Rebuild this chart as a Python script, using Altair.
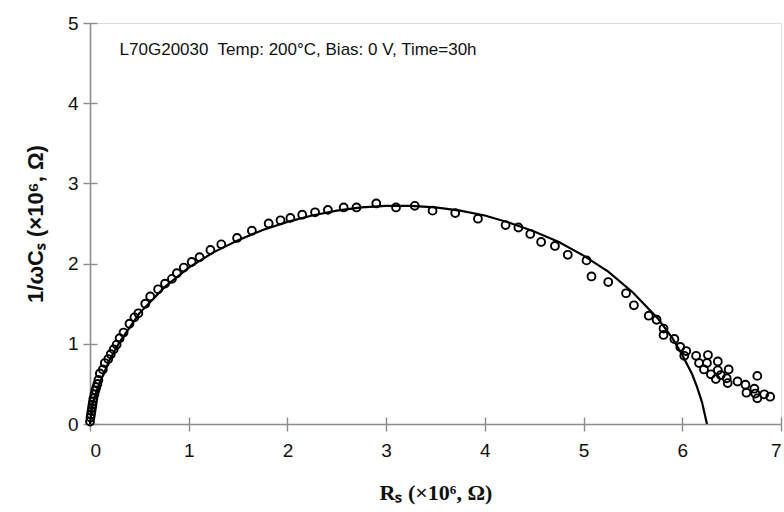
import altair as alt
import pandas as pd

# measured points (Rs, 1/wCs), units of 1e6 Ohm
rs_pts = [0.0, 0.005, 0.01, 0.015, 0.02, 0.025, 0.03, 0.035, 0.045, 0.055, 0.065, 0.075, 0.085,
          0.10, 0.13, 0.15, 0.185, 0.21, 0.24, 0.27, 0.30, 0.34, 0.40, 0.45, 0.49, 0.56, 0.61,
          0.69, 0.76, 0.83, 0.88, 0.95, 1.03, 1.11, 1.22, 1.33, 1.49, 1.64, 1.81, 1.93, 2.03,
          2.15, 2.28, 2.41, 2.57, 2.70, 2.90, 3.10, 3.29, 3.47, 3.70, 3.93, 4.21, 4.34, 4.46,
          4.57, 4.71, 4.84, 5.03, 5.08, 5.25, 5.43, 5.51, 5.66, 5.74, 5.81, 5.81, 5.92, 5.98,
          6.04, 6.02, 6.14, 6.26, 6.17, 6.25, 6.36, 6.22, 6.36, 6.47, 6.29, 6.39, 6.34, 6.45,
          6.46, 6.56, 6.64, 6.76, 6.65, 6.73, 6.74, 6.76, 6.83, 6.89]
xc_pts = [0.03, 0.08, 0.12, 0.16, 0.20, 0.24, 0.28, 0.32, 0.37, 0.42, 0.46, 0.50, 0.55,
          0.63, 0.68, 0.76, 0.81, 0.87, 0.93, 0.99, 1.07, 1.14, 1.25, 1.33, 1.38, 1.50, 1.59,
          1.68, 1.75, 1.81, 1.88, 1.95, 2.02, 2.08, 2.17, 2.24, 2.32, 2.41, 2.50, 2.54, 2.57,
          2.61, 2.64, 2.67, 2.70, 2.70, 2.75, 2.70, 2.72, 2.66, 2.63, 2.56, 2.48, 2.45, 2.37,
          2.27, 2.22, 2.11, 2.04, 1.84, 1.77, 1.63, 1.48, 1.35, 1.30, 1.19, 1.11, 1.06, 0.96,
          0.91, 0.85, 0.85, 0.86, 0.76, 0.76, 0.78, 0.68, 0.67, 0.68, 0.62, 0.61, 0.56, 0.57,
          0.51, 0.53, 0.49, 0.60, 0.39, 0.44, 0.38, 0.32, 0.37, 0.34]

# fitted arc
rs_fit = [0.0, 0.02, 0.05, 0.1, 0.2, 0.3, 0.5, 0.75, 1.0, 1.25, 1.5, 1.75, 2.0, 2.25, 2.5,
          2.75, 3.0, 3.25, 3.5, 3.75, 4.0, 4.25, 4.5, 4.75, 5.0, 5.25, 5.5, 5.75, 5.9, 6.0,
          6.1, 6.15, 6.2, 6.25]
xc_fit = [0.0, 0.2, 0.35, 0.52, 0.8, 1.02, 1.38, 1.70, 1.95, 2.14, 2.29, 2.42, 2.52, 2.60,
          2.66, 2.70, 2.72, 2.72, 2.70, 2.66, 2.60, 2.51, 2.40, 2.27, 2.10, 1.90, 1.64, 1.32,
          1.07, 0.86, 0.62, 0.46, 0.27, 0.0]

x_ticks = [0, 1, 2, 3, 4, 5, 6, 7]
y_ticks = [0, 1, 2, 3, 4, 5]
note = "L70G20030\u00a0 Temp: 200°C, Bias: 0 V, Time=30h"

pts = pd.DataFrame({"rs": rs_pts, "xc": xc_pts})
fit = pd.DataFrame({"rs": rs_fit, "xc": xc_fit, "order": list(range(len(rs_fit)))})

AX = "#8c8c8c"
xs = alt.Scale(domain=[0, 7], nice=False, zero=False)
ys = alt.Scale(domain=[0, 5], nice=False, zero=False)

main_x = alt.Axis(values=x_ticks, orient="bottom", grid=False, domainColor=AX, domainWidth=1.6,
                  tickColor=AX, tickWidth=1.4, tickSize=7, labelFont="Liberation Sans",
                  labelFontSize=19, labelColor="#111", labelPadding=10,
                  title="Rₛ (×10⁶, Ω)", titleFont="Liberation Serif", titleFontSize=22,
                  titleFontWeight="bold", titleColor="#111", titlePadding=22)
main_y = alt.Axis(values=y_ticks, orient="left", grid=False, domainColor=AX, domainWidth=1.6,
                  tickColor=AX, tickWidth=1.4, tickSize=7, labelFont="Liberation Sans",
                  labelFontSize=19, labelColor="#111", labelPadding=5,
                  title="1/ωCₛ (×10⁶, Ω)", titleFont="Liberation Sans", titleFontSize=22,
                  titleFontWeight="bold", titleColor="#111", titlePadding=20)
in_x = alt.Axis(values=x_ticks, orient="bottom", grid=False, domain=False, labels=False,
                tickColor=AX, tickWidth=1.4, tickSize=7, offset=-7, title=None)
in_y = alt.Axis(values=y_ticks, orient="left", grid=False, domain=False, labels=False,
                tickColor=AX, tickWidth=1.4, tickSize=7, offset=-7, title=None)

line = alt.Chart(fit).mark_line(color="black", strokeWidth=2.2).encode(
    x=alt.X("rs:Q", scale=xs, axis=in_x),
    y=alt.Y("xc:Q", scale=ys, axis=in_y),
    order="order:Q",
)
points = alt.Chart(pts).mark_point(shape="circle", filled=False, color="black", size=62,
                                    strokeWidth=1.9, opacity=1).encode(
    x=alt.X("rs:Q", scale=xs, axis=main_x),
    y=alt.Y("xc:Q", scale=ys, axis=main_y),
)
label = alt.Chart(pd.DataFrame({"t": [note], "x": [0.3], "y": [4.66]})).mark_text(
    align="left", baseline="middle", font="Liberation Sans", fontSize=17, color="#111"
).encode(x=alt.X("x:Q", scale=xs, axis=None), y=alt.Y("y:Q", scale=ys, axis=None), text="t:N")

chart = alt.layer(line, points, label).resolve_axis(x="independent", y="independent").properties(
    width=691, height=401,
    autosize=alt.AutoSizeParams(type="none"),
    padding={"left": 90, "top": 23, "right": 3, "bottom": 88},
).configure_view(stroke=AX, strokeWidth=1.6).configure(background="white")

chart.save("out.html", embed_options={"renderer": "svg", "actions": False})
